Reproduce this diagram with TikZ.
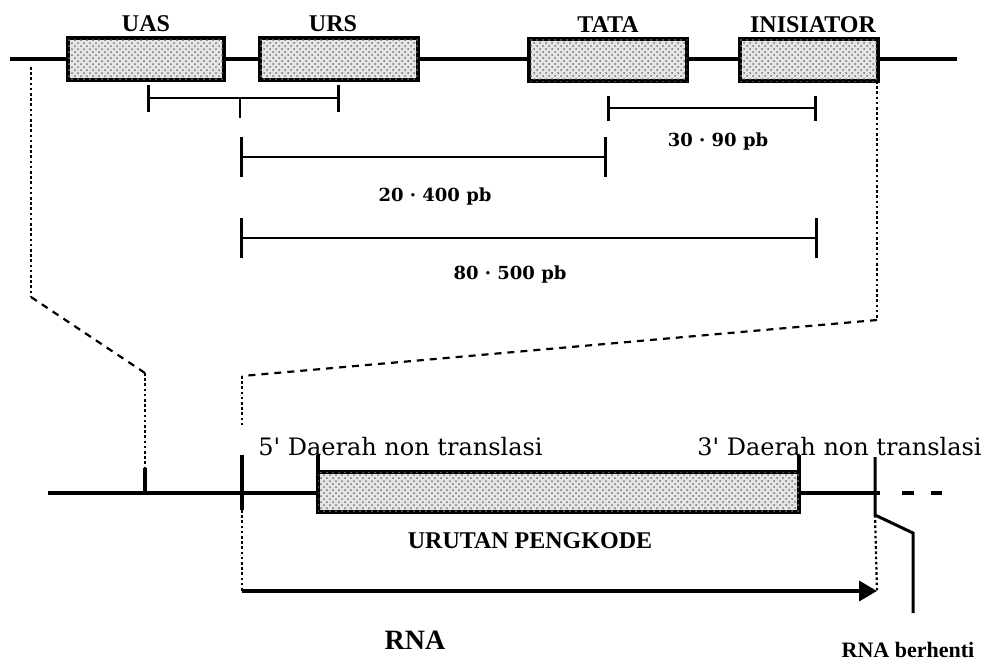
\documentclass[tikz,border=0pt]{standalone}
\usepackage{fontspec}
\newfontfamily\boldlbl{Liberation Serif}
\newfontfamily\regionfont{DejaVu Serif}
\usetikzlibrary{arrows.meta,positioning,patterns}
\tikzset{
  dna/.style={line width=1.8pt},
  genebox/.style={draw, line width=2pt, fill=black!10, minimum height=21pt,
    inner sep=0pt, outer sep=0pt,
    postaction={pattern=crosshatch dots, pattern color=black!55}},
  spanbar/.style={line width=1.3pt, {Bar[width=#1]}-{Bar[width=#1]}},
  spanbar/.default=13pt,
  guide/.style={line width=1.1pt, dash pattern=on 3.5pt off 3pt},
  guidedot/.style={line width=1.1pt, dash pattern=on 1.3pt off 1.3pt},
  toplbl/.style={font=\boldlbl\bfseries\fontsize{12}{14}\selectfont, inner sep=0pt},
  pblbl/.style={font=\regionfont\bfseries\fontsize{9}{11}\selectfont, inner sep=0pt},
  regionlbl/.style={font=\regionfont\fontsize{12}{14}\selectfont, inner sep=0pt},
  kodelbl/.style={font=\boldlbl\bfseries\fontsize{#1}{#1}\selectfont, inner sep=0pt},
}

\begin{document}
\begin{tikzpicture}[x=0.5pt, y=-0.5pt]

  \path[use as bounding box, fill=white] (0,0) rectangle (992,661);

  % Upper strand with promoter elements
  \coordinate (up0) at (10,59);
  \coordinate (up1) at (957,59);
  \draw[dna] (up0) -- (up1);

  \node[genebox, minimum width=78pt] (uas) at (146,59) {};
  \node[genebox, minimum width=79pt] (urs) at (339,59) {};
  \node[genebox, minimum width=79pt] (tata) at (608,60) {};
  \node[genebox, minimum width=69pt] (inis) at (809,60) {};

  \node[toplbl, above=3pt of uas] (uaslbl) {UAS};
  \node[toplbl, above=3pt of urs, xshift=-3pt] (urslbl) {URS};
  \node[toplbl, above=3pt of tata] (tatalbl) {TATA};
  \node[toplbl, above=3pt of inis, xshift=2pt] (inislbl) {INISIATOR};

  % Distance spans
  \coordinate (s1a) at (147,98);
  \coordinate (s1b) at (340,98);
  \coordinate (s1m) at (240,98);
  \coordinate (s1d) at (240,118);
  \draw[spanbar=13.5pt] (s1a) -- (s1b);
  \draw[line width=1.3pt] (s1m) -- (s1d);

  \coordinate (s2a) at (607,108);
  \coordinate (s2b) at (817,108);
  \draw[spanbar=12.5pt] (s2a) -- (s2b);
  \node[pblbl] (pb1) at (718,142) {30 · 90 pb};

  \coordinate (s3a) at (240,157);
  \coordinate (s3b) at (607,157);
  \draw[spanbar=20pt] (s3a) -- (s3b);
  \node[pblbl] (pb2) at (435,197) {20 · 400 pb};

  \coordinate (s4a) at (240,238);
  \coordinate (s4b) at (818,238);
  \draw[spanbar=20pt] (s4a) -- (s4b);
  \node[pblbl] (pb3) at (510,275) {80 · 500 pb};

  % Lower strand
  \coordinate (lo0) at (48,493);
  \coordinate (lo1) at (880,493);
  \draw[dna] (lo0) -- (lo1);
  \draw[dna] (902,493) -- (914,493);
  \draw[dna] (931,493) -- (942,493);

  \node[genebox, minimum width=240.5pt, minimum height=20pt] (kode) at (558.5,492) {};
  \draw[dna] (kode.north west) -- ++(0,-17);
  \draw[dna] (kode.north east) -- ++(0,-17);

  \coordinate (tk1a) at (145,468);
  \coordinate (tk1b) at (145,494);
  \draw[dna] (tk1a) -- (tk1b);

  \coordinate (tk5a) at (242,455);
  \coordinate (tk5b) at (242,510);
  \draw[dna] (tk5a) -- (tk5b);

  \coordinate (tk3a) at (875,457);
  \coordinate (tk3b) at (875,515);
  \coordinate (stopa) at (913,533);
  \coordinate (stopb) at (913,613);
  \draw[line width=1.5pt] (tk3a) -- (tk3b) -- (stopa) -- (stopb);

  \node[regionlbl, anchor=base west] (utr5) at (258,455) {5' Daerah non translasi};
  \node[regionlbl, anchor=base west] (utr3) at (697,455) {3' Daerah non translasi};
  \node[kodelbl=12] (kodelb) at (530,541) {URUTAN PENGKODE};

  % Zoom guides between the strands
  \coordinate (gl0) at (31,67);
  \coordinate (gl1) at (31,297);
  \coordinate (gl2) at (145,373);
  \draw[guidedot] (gl0) -- (gl1);
  \draw[guide] (gl1) -- (gl2);
  \draw[guidedot] (gl2) -- (tk1a);

  \coordinate (gr0) at (877,81);
  \coordinate (gr1) at (877,320);
  \coordinate (gr2) at (242,376);
  \coordinate (gr3) at (242,427);
  \draw[guidedot] (gr0) -- (gr1);
  \draw[guide] (gr1) -- (gr2);
  \draw[guidedot] (gr2) -- (gr3);

  % Transcript
  \coordinate (rna0) at (242,591);
  \coordinate (rna1) at (877,591);
  \draw[guidedot] (tk5b) -- (rna0);
  \draw[guidedot] (tk3b) -- (rna1);
  \draw[dna, -{Triangle[length=9pt, width=10pt]}] (rna0) -- (rna1);

  \node[kodelbl=14] (rnalbl) at (415,640) {RNA};
  \node[kodelbl=11] (stoplbl) at (908,650) {RNA berhenti};

\end{tikzpicture}
\end{document}
